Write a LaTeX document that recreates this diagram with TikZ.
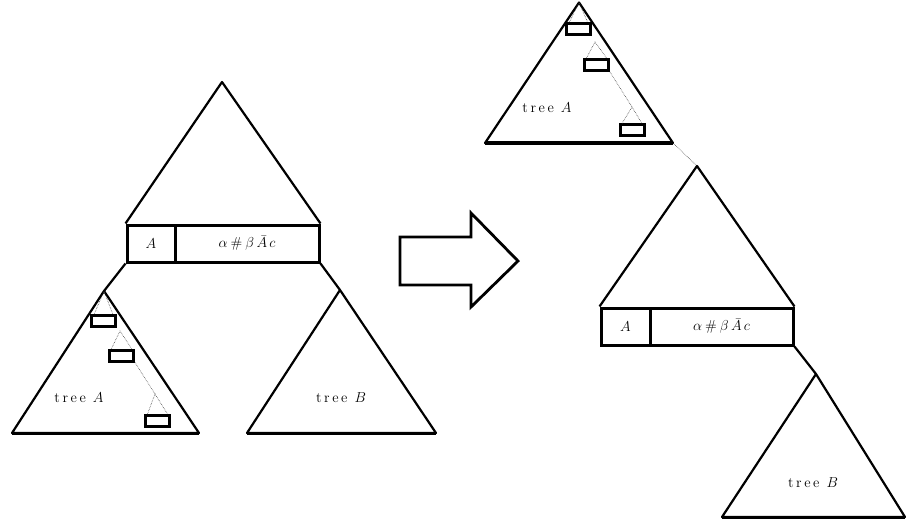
\documentclass[tikz,border=0pt]{standalone}
\usetikzlibrary{calc}
\begin{document}
\begin{tikzpicture}[x=1pt,y=-1pt,
  tri/.style={line width=2.2pt, line join=round},
  cell/.style={draw, line width=3pt, minimum height=37pt, inner sep=0pt, font=\fontsize{15}{17}\selectfont},
  leaf/.style={draw, line width=3pt, minimum width=24pt, minimum height=11pt, inner sep=0pt},
  sub/.style={black!75, line width=0.6pt, densely dotted},
  lbl/.style={font=\fontsize{14.5}{17}\selectfont, inner sep=0pt},
  bigarrow/.style={line width=2.8pt, line join=miter}]
\useasboundingbox (0,0) rectangle (907,524);
\newcommand{\treeword}{t\kern2.6pt r\kern2.6pt e\kern2.6pt e\kern7pt}
\newcommand{\boxtext}{$\alpha\kern3pt\#\kern3pt\beta\kern2.5pt\bar{A}\kern2pt c$}

% ===== left figure =====
\coordinate (T1) at (222,82);
\node[cell, minimum width=48pt] (LbA) at (151,243.5) {$A$};
\node[cell, minimum width=144pt] (LbB) at (247,243.5) {\boxtext};
\draw[tri] (LbA.north west) -- (T1) -- (LbB.north east);

% tree A (left)
\coordinate (LtA) at (104,291);
\coordinate (LtAl) at (12,433);
\coordinate (LtAr) at (199,433);
\draw[tri] (LtA) -- (LtAl) -- (LtAr) -- cycle;
\draw[tri, line width=3pt] (LtAl) -- (LtAr);
\draw[tri] (LbA.south west) -- (LtA);
\node[leaf] (Lr1) at (103.5,320.5) {};
\node[leaf] (Lr2) at (121.5,355.5) {};
\node[leaf] (Lr3) at (157.5,421) {};
\coordinate (Ls2) at (120,331);
\coordinate (Ls3) at (155,394);
\draw[sub] ($(Lr1.north)+(-9,0)$) -- (LtA) -- ($(Lr1.north)+(9,0)$);
\draw[sub] ($(Lr2.north)+(-10,0)$) -- (Ls2) -- ($(Lr2.north)+(10,0)$);
\draw[sub] (Lr2.south east) -- (Ls3);
\draw[sub] ($(Lr3.north)+(-10,0)$) -- (Ls3) -- ($(Lr3.north)+(10,0)$);
\node[lbl] (LlA) at (79,398) {\treeword$A$};

% tree B (left)
\coordinate (LtB) at (340,290);
\coordinate (LtBl) at (247,433);
\coordinate (LtBr) at (436,433);
\draw[tri] (LtB) -- (LtBl) -- (LtBr) -- cycle;
\draw[tri, line width=3pt] (LtBl) -- (LtBr);
\draw[tri] (LbB.south east) -- (LtB);
\node[lbl] (LlB) at (341,398) {\treeword$B$};

% ===== arrow =====
\draw[bigarrow] (400,237) -- (471,237) -- (471,213) -- (518,261) -- (471,307) -- (471,285) -- (400,285) -- cycle;

% ===== right figure =====
% tree A (top)
\coordinate (RtA) at (579,2.5);
\coordinate (RtAl) at (485,143);
\coordinate (RtAr) at (673,143);
\draw[tri] (RtA) -- (RtAl) -- (RtAr) -- cycle;
\draw[tri, line width=3.2pt] (RtAl) -- (RtAr);
\node[leaf] (Rr1) at (578.5,29) {};
\node[leaf] (Rr2) at (596.5,65) {};
\node[leaf] (Rr3) at (632,130.5) {};
\coordinate (Rs2) at (595,42);
\coordinate (Rs3) at (632,107);
\draw[sub] ($(Rr1.north)+(-9,0)$) -- (RtA) -- ($(Rr1.north)+(9,0)$);
\draw[sub] ($(Rr2.north)+(-10,0)$) -- (Rs2) -- ($(Rr2.north)+(10,0)$);
\draw[sub] (Rr2.south east) -- (Rs3);
\draw[sub] ($(Rr3.north)+(-10,0)$) -- (Rs3) -- ($(Rr3.north)+(10,0)$);
\node[lbl] (RlA) at (547,108) {\treeword$A$};

% middle triangle with box
\coordinate (RM) at (697,166);
\draw[sub] (RtAr) -- (RM);
\node[cell, minimum width=49pt] (RbA) at (625.5,326.5) {$A$};
\node[cell, minimum width=143pt] (RbB) at (721.5,326.5) {\boxtext};
\draw[tri] (RbA.north west) -- (RM) -- (RbB.north east);

% tree B (bottom)
\coordinate (RtB) at (816,374);
\coordinate (RtBl) at (722,517);
\coordinate (RtBr) at (905,517);
\draw[tri] (RtB) -- (RtBl) -- (RtBr) -- cycle;
\draw[tri, line width=3pt] (RtBl) -- (RtBr);
\draw[tri] (RbB.south east) -- (RtB);
\node[lbl] (RlB) at (813,483) {\treeword$B$};
\end{tikzpicture}
\end{document}
